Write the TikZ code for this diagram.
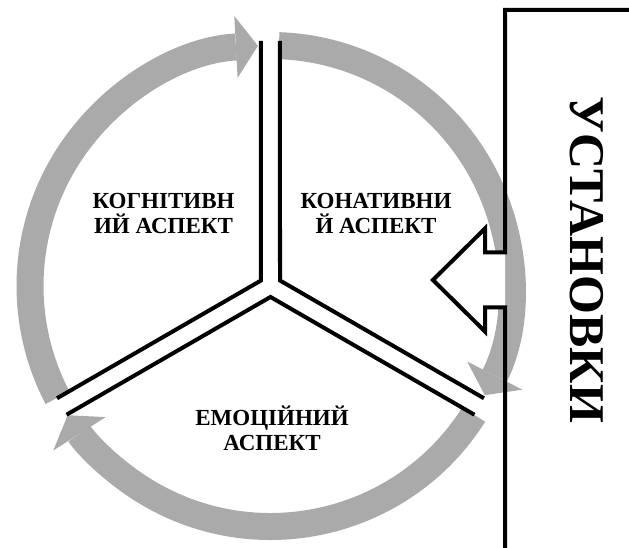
\documentclass[tikz,border=0pt]{standalone}
\usepackage{fontspec}
\setmainfont{Liberation Serif}
\usetikzlibrary{arrows.meta}
\definecolor{bandgray}{RGB}{170,170,170}
\tikzset{
  band/.style={line width=27pt, bandgray, -{Triangle[width=62pt,length=22pt,line width=0pt]}},
  divider/.style={line width=4pt, line join=miter},
  aspect/.style={font=\bfseries\fontsize{23}{25}\selectfont, align=center},
}
\begin{document}
\begin{tikzpicture}[x=1pt,y=1pt]
    \useasboundingbox (-270.5,-262) rectangle (358.5,286);

    % --- 1. gray circular arrows ---
    \draw[band] (207.7:240.5) arc[start angle=207.7, end angle=93, radius=240.5pt]; % left, up to the top
    \draw[band] (88:240.5) arc[start angle=88, end angle=-27, radius=240.5pt]; % right
    \draw[band] (-32.3:240.5) arc[start angle=-32.3, end angle=-147.5, radius=240.5pt]; % bottom

    % --- 2. double dividers between the sectors ---
    \draw[divider] ([shift={(180:9.5)}]90:245) -- (150:10.97) -- ([shift={(120:9.5)}]210:241);
    \draw[divider] ([shift={(0:9.5)}]90:245) -- (30:10.97) -- ([shift={(60:9.5)}]330:241);
    \draw[divider] ([shift={(300:9.5)}]210:241) -- (270:10.97) -- ([shift={(240:9.5)}]330:241);

    % --- 3. sector labels ---
    \node[aspect] (cognitive) at (-107,72) {КОГНІТИВН\\ИЙ АСПЕКТ};
    \node[aspect] (conative) at (105.5,72) {КОНАТИВНИ\\Й АСПЕКТ};
    \node[aspect] (emotional) at (1.5,-142) {ЕМОЦІЙНИЙ\\АСПЕКТ};

    % --- 4. frame with the hollow arrow ---
    \fill[white] (234.5,33.5) -- (214.5,33.5) -- (214.5,57.5) -- (162.5,6)
        -- (214.5,-45.5) -- (214.5,-21.5) -- (234.5,-21.5) -- cycle;
    \draw[divider] (370,276) -- (234.5,276) -- (234.5,33.5) -- (214.5,33.5)
        -- (214.5,57.5) -- (162.5,6) -- (214.5,-45.5) -- (214.5,-21.5)
        -- (234.5,-21.5) -- (234.5,-275);
    \node[rotate=-90, font=\bfseries\fontsize{50}{50}\selectfont] (attitudes) at (316.5,26) {УСТАНОВКИ};

\end{tikzpicture}
\end{document}
